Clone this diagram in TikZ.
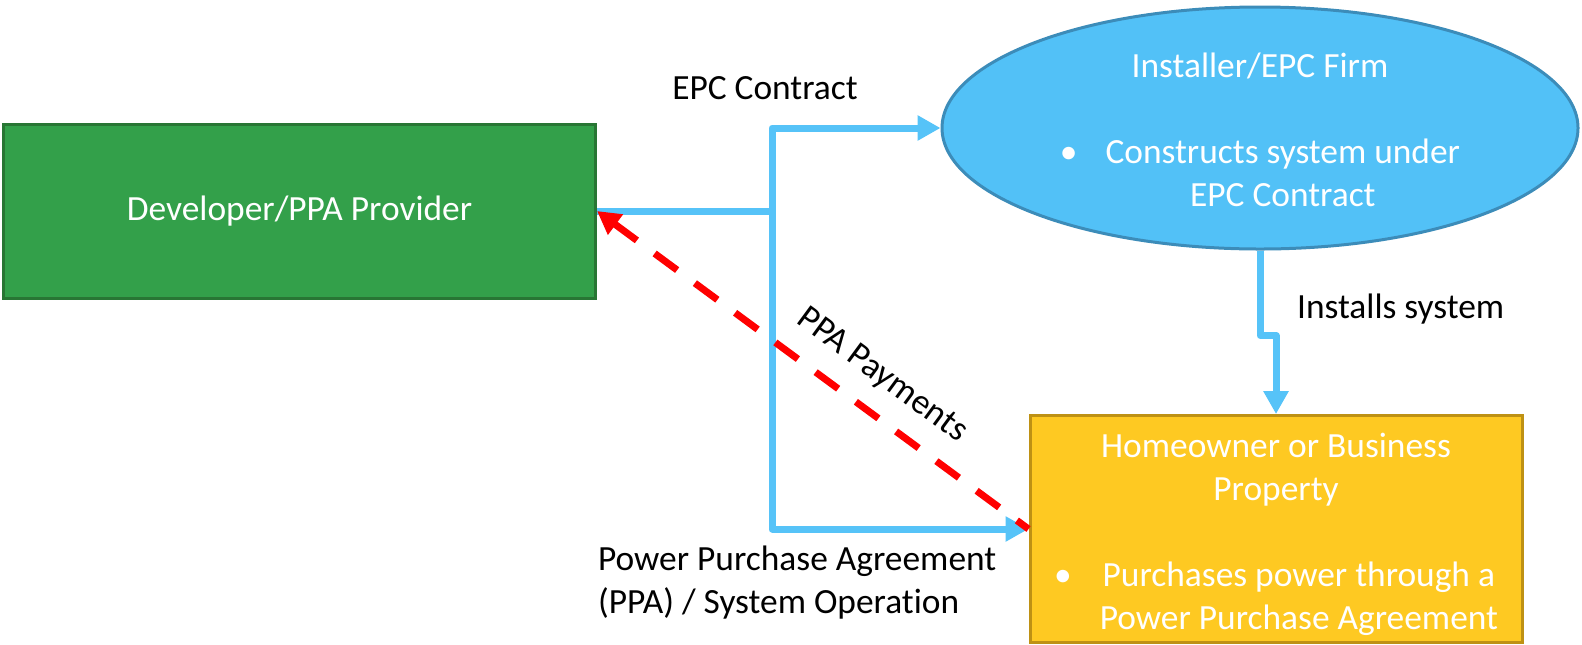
\documentclass[tikz,border=0pt]{standalone}
\usepackage{fontspec}
\setmainfont{Carlito}[Ligatures=NoCommon]
\usetikzlibrary{shapes.geometric,arrows.meta}
\definecolor{devgreen}{RGB}{51,160,74}
\definecolor{devedge}{RGB}{40,118,52}
\definecolor{epcblue}{RGB}{82,193,247}
\definecolor{epcedge}{RGB}{60,140,185}
\definecolor{flowblue}{RGB}{86,195,248}
\definecolor{homeyellow}{RGB}{254,201,34}
\definecolor{homeedge}{RGB}{190,145,20}
\newcommand{\bulitem}[1]{\textbullet\hspace{14pt}\begin{tabular}[t]{@{}c@{}}#1\end{tabular}}
\begin{document}
\begin{tikzpicture}[x=0.5pt, y=-0.5pt,
		font=\fontsize{17.7}{21.5}\selectfont,
		party/.style={line width=1.5pt, text=white, align=center},
		flow/.style={draw=flowblue, line width=3.5pt, line join=round, -{Triangle[length=11.5pt,width=12pt]}},
		payline/.style={draw=red, line width=3.5pt, dash pattern=on 14pt off 11pt, {Triangle[length=11.5pt,width=12pt]}-}]
		\useasboundingbox (0,0) rectangle (1582,644);
		\node[party, draw=devedge, fill=devgreen, minimum width=296pt, minimum height=87pt] (dev) at (299.5,211) {Developer/PPA Provider};
		\node[party, ellipse, draw=epcedge, fill=epcblue, inner xsep=0pt, inner ysep=-10pt, minimum width=318pt, minimum height=121pt] (epc) at (1260,128)
			{\rule{0pt}{20pt}Installer/EPC Firm\\[21.5pt]\bulitem{Constructs system under\\EPC Contract}};
		\node[party, draw=homeedge, fill=homeyellow, inner ysep=0pt, minimum width=246pt, minimum height=112pt] (home) at (1276,529)
			{\rule{0pt}{21pt}Homeowner or Business\\Property\\[21.5pt]\bulitem{Purchases power through a\\Power Purchase Agreement}};
		\draw[flow] (dev.east) -- ++(175,0) |- (epc.west);
		\draw[flow] (dev.east) -- ++(175,0) |- (home.west);
		\draw[flow] (epc.south) -- ++(0,85) -| (home.north);
		\draw[payline] (dev.east) -- node[pos=0.61, sloped, above=6pt] (paylbl) {PPA Payments} (home.west);
		\node (epclbl) at (765,88) {EPC Contract};
		\node[anchor=west] (instlbl) at (1290,309) {Installs system};
		\node[anchor=west, align=left] (ppalbl) at (591,583) {Power Purchase Agreement\\(PPA) / System Operation};
	\end{tikzpicture}
\end{document}
